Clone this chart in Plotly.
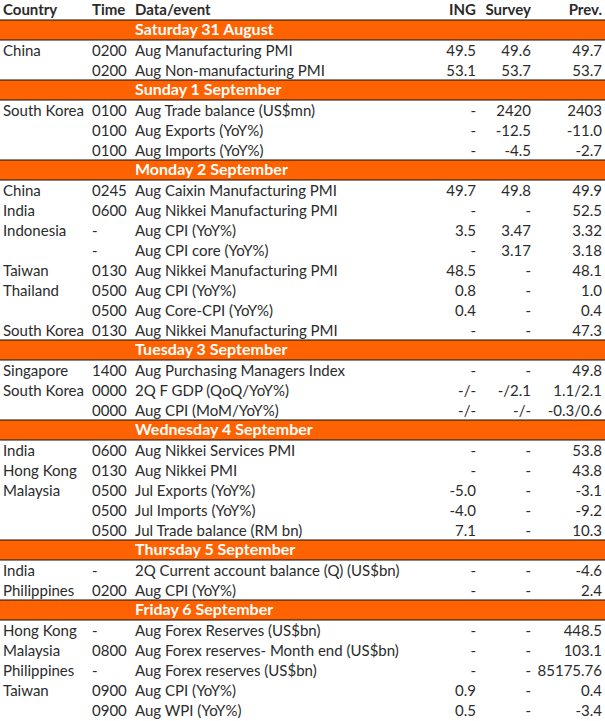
import plotly.graph_objects as go

# Asia economic calendar, one entry per data row
day = ["Saturday 31 August"] * 2 + ["Sunday 1 September"] * 3 + ["Monday 2 September"] * 8 \
    + ["Tuesday 3 September"] * 3 + ["Wednesday 4 September"] * 5 + ["Thursday 5 September"] * 2 \
    + ["Friday 6 September"] * 5
country = ["China", "", "South Korea", "", "",
           "China", "India", "Indonesia", "", "Taiwan", "Thailand", "", "South Korea",
           "Singapore", "South Korea", "",
           "India", "Hong Kong", "Malaysia", "", "",
           "India", "Philippines",
           "Hong Kong", "Malaysia", "Philippines", "Taiwan", ""]
time = ["0200", "0200", "0100", "0100", "0100",
        "0245", "0600", "-", "-", "0130", "0500", "0500", "0130",
        "1400", "0000", "0000",
        "0600", "0130", "0500", "0500", "0500",
        "-", "0200",
        "-", "0800", "-", "0900", "0900"]
event = ["Aug Manufacturing PMI", "Aug Non-manufacturing PMI",
         "Aug Trade balance (US$mn)", "Aug Exports (YoY%)", "Aug Imports (YoY%)",
         "Aug Caixin Manufacturing PMI", "Aug Nikkei Manufacturing PMI", "Aug CPI (YoY%)",
         "Aug CPI core (YoY%)", "Aug Nikkei Manufacturing PMI", "Aug CPI (YoY%)",
         "Aug Core-CPI (YoY%)", "Aug Nikkei Manufacturing PMI",
         "Aug Purchasing Managers Index", "2Q F GDP (QoQ/YoY%)", "Aug CPI (MoM/YoY%)",
         "Aug Nikkei Services PMI", "Aug Nikkei PMI", "Jul Exports (YoY%)",
         "Jul Imports (YoY%)", "Jul Trade balance (RM bn)",
         "2Q Current account balance (Q) (US$bn)", "Aug CPI (YoY%)",
         "Aug Forex Reserves (US$bn)", "Aug Forex reserves- Month end (US$bn)",
         "Aug Forex reserves (US$bn)", "Aug CPI (YoY%)", "Aug WPI (YoY%)"]
ing = ["49.5", "53.1", "-", "-", "-",
       "49.7", "-", "3.5", "-", "48.5", "0.8", "0.4", "-",
       "-", "-/-", "-/-",
       "-", "-", "-5.0", "-4.0", "7.1",
       "-", "-",
       "-", "-", "-", "0.9", "0.5"]
survey = ["49.6", "53.7", "2420", "-12.5", "-4.5",
          "49.8", "-", "3.47", "3.17", "-", "-", "-", "-",
          "-", "-/2.1", "-/-",
          "-", "-", "-", "-", "-",
          "-", "-",
          "-", "-", "-", "-", "-"]
prev = ["49.7", "53.7", "2403", "-11.0", "-2.7",
        "49.9", "52.5", "3.32", "3.18", "48.1", "1.0", "0.4", "47.3",
        "49.8", "1.1/2.1", "-0.3/0.6",
        "53.8", "43.8", "-3.1", "-9.2", "10.3",
        "-4.6", "2.4",
        "448.5", "103.1", "85175.76", "0.4", "-3.4"]
headers = ["Country", "Time", "Data/event", "ING", "Survey", "Prev."]

ORANGE = "#FF6200"
INK = "#2b2b2b"
FONT = "Lato"
SIZE = 15

# work out which row each line of the table sits on (row 0 = header)
band_rows, band_text, data_rows = [], [], []
r, last = 1, None
for d in day:
    if d != last:
        band_rows.append(r)
        band_text.append(d)
        r += 1
        last = d
    data_rows.append(r)
    r += 1
n_rows = r

# column anchors (x in px) and alignment
cols = [
    (country, 3, "middle right"),
    (time, 92, "middle right"),
    (event, 135, "middle right"),
    (ing, 476, "middle left"),
    (survey, 531, "middle left"),
    (prev, 602, "middle left"),
]
anchors = [c[1] for c in cols]
positions = [c[2] for c in cols]

fig = go.Figure()

# orange day bands with thin dark rules above and below
for y in band_rows:
    fig.add_shape(type="rect", xref="paper", x0=0, x1=1, y0=y, y1=y + 1,
                  fillcolor=ORANGE, line_width=0, layer="below")
    for edge in (y, y + 1):
        fig.add_shape(type="line", xref="paper", x0=0, x1=1, y0=edge, y1=edge,
                      line=dict(color="#111111", width=1))

# text sits a touch below the middle of each row
text_y = [y + 0.6 for y in data_rows]
for vals, x, pos in cols:
    fig.add_trace(go.Scatter(
        x=[x] * len(vals), y=text_y, text=vals, mode="text",
        textposition=pos, textfont=dict(family=FONT, size=SIZE, color=INK),
        hoverinfo="skip", showlegend=False))

# header row
fig.add_trace(go.Scatter(
    x=anchors, y=[0.58] * len(headers), text=["<b>%s</b>" % h for h in headers],
    mode="text", textposition=positions,
    textfont=dict(family=FONT, size=SIZE, color=INK),
    hoverinfo="skip", showlegend=False))

# day labels inside the bands
fig.add_trace(go.Scatter(
    x=[anchors[2]] * len(band_text), y=[y + 0.55 for y in band_rows],
    text=["<b>%s</b>" % t for t in band_text],
    mode="text", textposition="middle right",
    textfont=dict(family=FONT, size=16, color="white"),
    hoverinfo="skip", showlegend=False))

fig.update_layout(
    width=605, height=721, margin=dict(l=0, r=0, t=0, b=0),
    paper_bgcolor="white", plot_bgcolor="white",
    xaxis=dict(range=[0, 605], visible=False, fixedrange=True),
    yaxis=dict(range=[n_rows + 0.05, 0], visible=False, fixedrange=True),
)

fig.write_html("out.html", config={"displayModeBar": False},
               post_script="document.body.style.margin='0';")
